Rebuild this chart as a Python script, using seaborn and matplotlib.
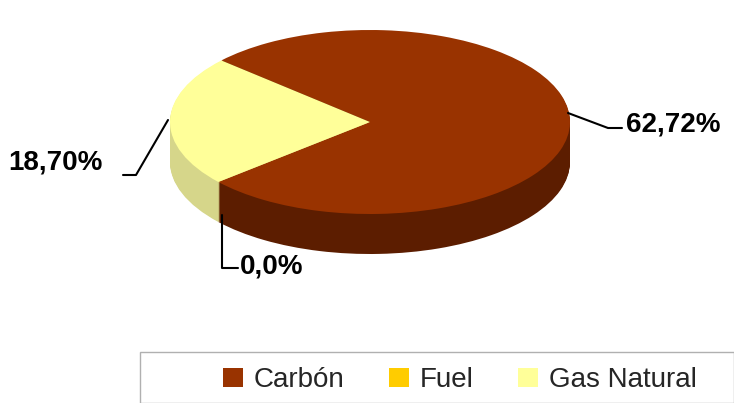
import matplotlib
matplotlib.use("Agg")
import matplotlib.pyplot as plt
import seaborn as sns
from matplotlib.patches import Patch, Rectangle
from matplotlib.lines import Line2D

sns.set_theme(style="white")
plt.rcParams["font.family"] = ["Liberation Sans", "DejaVu Sans"]

# ── data ──────────────────────────────────────────────────────────────
categories = ["Carbón", "Fuel", "Gas Natural"]
values = [62.72, 0.0, 18.70]
labels = ["62,72%", "0,0%", "18,70%"]
top_colors = ["#993300", "#FFCC00", "#FFFF99"]
side_colors = ["#5c1d00", "#c89a00", "#d6d68a"]

W, H = 734, 403
SQ = 0.46          # vertical squash of the pie
CX, CY = 370, 122  # pixel centre of top face
R = 200
DEPTH = 40

fig = plt.figure(figsize=(W / 100, H / 100), dpi=100)
ax = fig.add_axes([0, 0, 1, 1])

def yd(py):
    return (H - py) / SQ

# side layers then top face
for d in range(DEPTH, 0, -1):
    ax.pie(values, colors=side_colors, startangle=138, counterclock=False,
           radius=R, center=(CX, yd(CY + d)), wedgeprops=dict(linewidth=0))
wedges, _ = ax.pie(values, colors=top_colors, startangle=138, counterclock=False,
                   radius=R, center=(CX, yd(CY)),
                   wedgeprops=dict(linewidth=0))
ax.set_aspect("auto")
ax.set_xlim(0, W)
ax.set_ylim(0, H / SQ)
ax.axis("off")

def px(x, y):
    return x / W, 1 - y / H

def leader(pts):
    xs = [p[0] / W for p in pts]
    ys = [1 - p[1] / H for p in pts]
    fig.add_artist(Line2D(xs, ys, color="black", lw=1.5))

lab_kw = dict(fontsize=20, fontweight="bold", va="center", color="black")
leader([(568, 113), (608, 128), (622, 128)])
fig.text(*px(626, 124), labels[0], **lab_kw)
leader([(168, 120), (136, 175), (123, 175)])
fig.text(*px(8, 163), labels[2], **lab_kw)
leader([(222, 215), (222, 268), (238, 268)])
fig.text(*px(240, 266), labels[1], **lab_kw)

# legend box
fig.add_artist(Rectangle(px(140, 403), (W - 140) / W, 51 / H, transform=fig.transFigure,
                         facecolor="white", edgecolor="#b0b0b0", lw=1))
handles = [Patch(facecolor=c, edgecolor="none", label=l) for c, l in zip(top_colors, categories)]
fig.legend(handles=handles, ncol=3, frameon=False, fontsize=20,
           loc="center", bbox_to_anchor=(460 / W, 1 - 380 / H),
           handlelength=0.7, handleheight=0.7, columnspacing=1.6, handletextpad=0.4)

fig.savefig("out.png", dpi=100)
